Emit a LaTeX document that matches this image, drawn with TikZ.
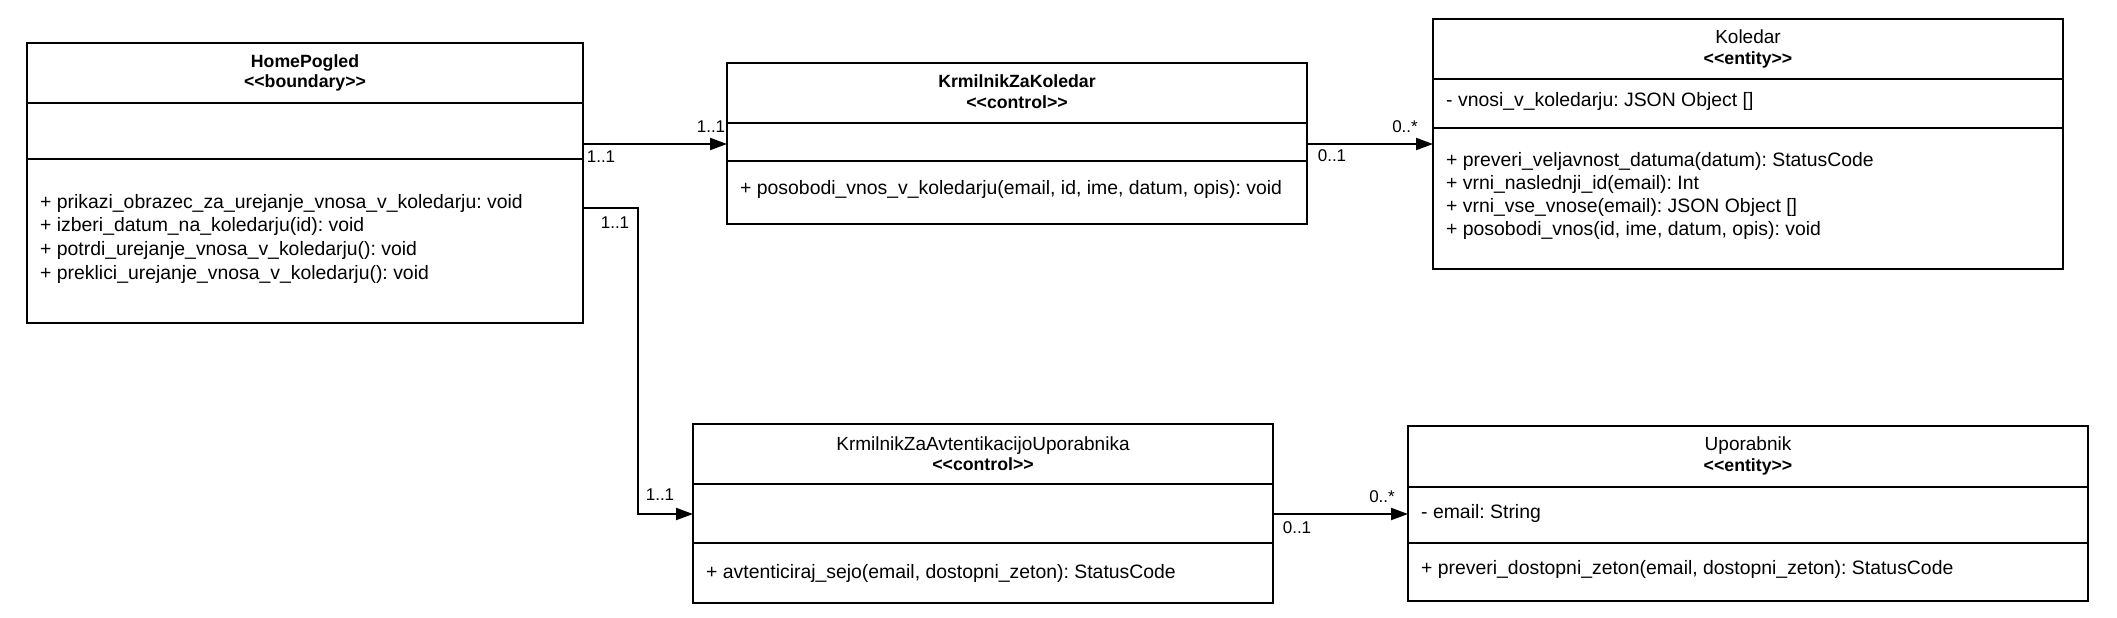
\documentclass[tikz,border=0pt]{standalone}
\usepackage{fontspec}
\setmainfont{Liberation Sans}
\usetikzlibrary{arrows.meta}
\frenchspacing
\newcommand{\stq}[1]{<{}<#1>{}>}
\tikzset{
  x=1pt, y=-1pt,
  umlbox/.style={draw=black, line width=2pt, rectangle, inner sep=0pt, outer sep=0pt, anchor=north west},
  divider/.style={draw=black, line width=2pt},
  body/.style={anchor=base west, inner sep=0pt, font=\fontsize{19.4}{23}\selectfont},
  cname/.style={anchor=base, inner sep=0pt, font=\fontsize{19}{23}\selectfont},
  cnameb/.style={anchor=base, inner sep=0pt, font=\fontsize{17.7}{21}\selectfont\bfseries},
  stereo/.style={anchor=base, inner sep=0pt, font=\fontsize{17.7}{21}\selectfont\bfseries},
  mult/.style={anchor=center, inner sep=0pt, font=\fontsize{17}{20}\selectfont},
  assoc/.style={draw=black, line width=2pt, -{Triangle[length=17pt,width=12pt]}},
}
\begin{document}
\begin{tikzpicture}
\useasboundingbox (0,0) rectangle (2117,618);
\fill[white] (0,0) rectangle (2117,618);

% ---------- HomePogled ----------
\node[umlbox, minimum width=556pt, minimum height=280pt] (hp) at (27,43) {};
\draw[divider] (hp.west |- 0,103) -- (hp.east |- 0,103);
\draw[divider] (hp.west |- 0,159) -- (hp.east |- 0,159);
\node[cnameb] (hpname) at (305,67) {HomePogled};
\node[stereo] (hpst) at (305,87) {\stq{boundary}};
\node[body] (hpm1) at (40,208) {+ prikazi\_obrazec\_za\_urejanje\_vnosa\_v\_koledarju: void};
\node[body] (hpm2) at (40,231.7) {+ izberi\_datum\_na\_koledarju(id): void};
\node[body] (hpm3) at (40,255.4) {+ potrdi\_urejanje\_vnosa\_v\_koledarju(): void};
\node[body] (hpm4) at (40,279) {+ preklici\_urejanje\_vnosa\_v\_koledarju(): void};

% ---------- KrmilnikZaKoledar ----------
\node[umlbox, minimum width=580pt, minimum height=161pt] (kzk) at (727,63) {};
\draw[divider] (kzk.west |- 0,123) -- (kzk.east |- 0,123);
\draw[divider] (kzk.west |- 0,161) -- (kzk.east |- 0,161);
\node[cnameb] (kzkname) at (1017,87) {KrmilnikZaKoledar};
\node[stereo] (kzkst) at (1017,108) {\stq{control}};
\node[body] (kzkm1) at (740,194) {+ posobodi\_vnos\_v\_koledarju(email, id, ime, datum, opis): void};

% ---------- Koledar ----------
\node[umlbox, minimum width=630pt, minimum height=250pt] (kol) at (1433,19) {};
\draw[divider] (kol.west |- 0,79) -- (kol.east |- 0,79);
\draw[divider] (kol.west |- 0,128) -- (kol.east |- 0,128);
\node[cname] (kolname) at (1748,44) {Koledar};
\node[stereo] (kolst) at (1748,64) {\stq{entity}};
\node[body] (kola1) at (1446,106) {- vnosi\_v\_koledarju: JSON Object []};
\node[body] (kolm1) at (1446,166) {+ preveri\_veljavnost\_datuma(datum): StatusCode};
\node[body] (kolm2) at (1446,189) {+ vrni\_naslednji\_id(email): Int};
\node[body] (kolm3) at (1446,212) {+ vrni\_vse\_vnose(email): JSON Object []};
\node[body] (kolm4) at (1446,235) {+ posobodi\_vnos(id, ime, datum, opis): void};

% ---------- KrmilnikZaAvtentikacijoUporabnika ----------
\node[umlbox, minimum width=580pt, minimum height=179pt] (kzau) at (693,424) {};
\draw[divider] (kzau.west |- 0,484) -- (kzau.east |- 0,484);
\draw[divider] (kzau.west |- 0,543) -- (kzau.east |- 0,543);
\node[cname] (kzauname) at (983,450) {KrmilnikZaAvtentikacijoUporabnika};
\node[stereo] (kzaust) at (983,470) {\stq{control}};
\node[body] (kzaum1) at (706,578) {+ avtenticiraj\_sejo(email, dostopni\_zeton): StatusCode};

% ---------- Uporabnik ----------
\node[umlbox, minimum width=680pt, minimum height=175pt] (upo) at (1408,426) {};
\draw[divider] (upo.west |- 0,487) -- (upo.east |- 0,487);
\draw[divider] (upo.west |- 0,543) -- (upo.east |- 0,543);
\node[cname] (uponame) at (1748,450) {Uporabnik};
\node[stereo] (upost) at (1748,471) {\stq{entity}};
\node[body] (upoa1) at (1421,518) {- email: String};
\node[body] (upom1) at (1421,574) {+ preveri\_dostopni\_zeton(email, dostopni\_zeton): StatusCode};

% ---------- connectors ----------
\draw[assoc] (hp.east |- 0,144) -- (kzk.west |- 0,144);
\draw[assoc] (kzk.east |- 0,144) -- (kol.west |- 0,144);
\draw[assoc] (hp.east |- 0,208) -- ++(55,0) |- (kzau.west |- 0,514);
\draw[assoc] (kzau.east |- 0,514) -- (upo.west |- 0,514);

% ---------- multiplicities ----------
\node[mult] (m1) at (601,157) {1..1};
\node[mult] (m2) at (711,127) {1..1};
\node[mult] (m3) at (1332,156) {0..1};
\node[mult] (m4) at (1405,127) {0..*};
\node[mult] (m5) at (615,223) {1..1};
\node[mult] (m6) at (660,495) {1..1};
\node[mult] (m7) at (1297,528) {0..1};
\node[mult] (m8) at (1382,497) {0..*};
\end{tikzpicture}
\end{document}
